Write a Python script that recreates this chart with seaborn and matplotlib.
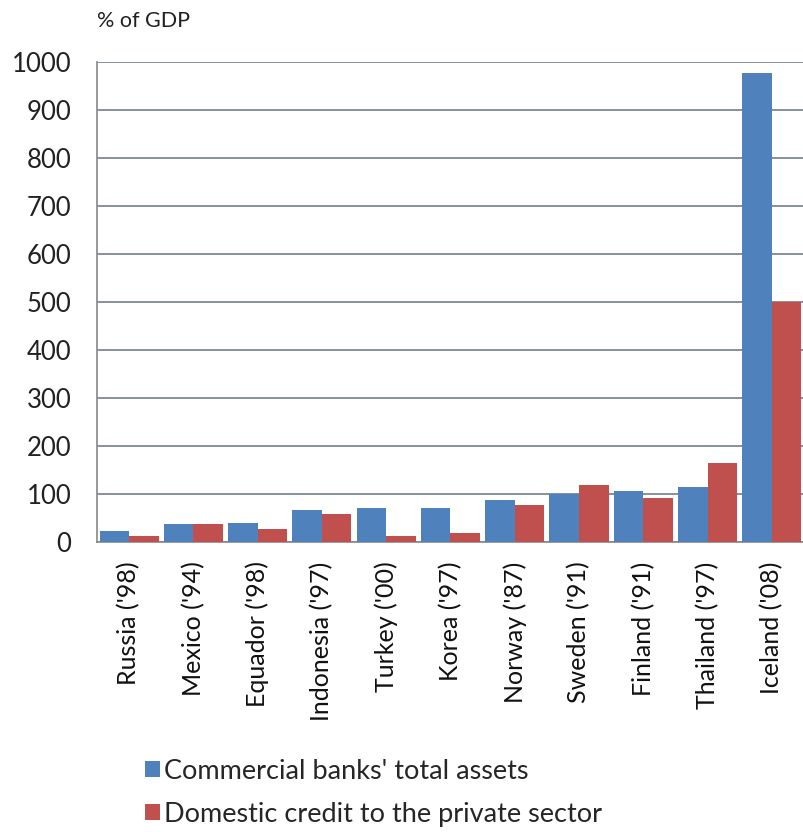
import matplotlib
matplotlib.use("Agg")
import matplotlib.pyplot as plt
from matplotlib.patches import Patch
import seaborn as sns
import pandas as pd

countries = ["Russia ('98)", "Mexico ('94)", "Equador ('98)", "Indonesia ('97)",
             "Turkey ('00)", "Korea ('97)", "Norway ('87)", "Sweden ('91)",
             "Finland ('91)", "Thailand ('97)", "Iceland ('08)"]
bank_assets = [22, 37, 40, 67, 70, 70, 88, 100, 106, 115, 977]
private_credit = [12, 37, 28, 58, 12, 19, 76, 119, 91, 164, 499]
series_names = ["Commercial banks' total assets", "Domestic credit to the private sector"]
yticks = list(range(0, 1001, 100))

df = pd.DataFrame({
    "country": countries * 2,
    "value": bank_assets + private_credit,
    "series": [series_names[0]] * len(countries) + [series_names[1]] * len(countries),
})

sns.set_style("white")
plt.rcParams["font.family"] = ["Lato", "DejaVu Sans"]

fig = plt.figure(figsize=(8.04, 8.32), dpi=100)
ax = fig.add_axes([0.1206, 0.3486, 0.8794, 0.5769])

palette = ["#4F81BD", "#C0504D"]
sns.barplot(data=df, x="country", y="value", hue="series", palette=palette,
            width=0.92, saturation=1, ax=ax, legend=False, zorder=3,
            linewidth=0, edgecolor="none")

ax.set_ylim(0, 1000)
ax.set_xlim(-0.5, len(countries) - 0.5)
ax.set_yticks(yticks)
ax.set_yticklabels([str(t) for t in yticks], fontsize=18.5, color="#222222")
ax.yaxis.grid(True, color="#7C8894", linewidth=1.3, zorder=0)
ax.set_axisbelow(True)
ax.tick_params(axis="y", length=6.5, width=1, color="#888888", pad=12)

# category boundaries carry the ticks, labels sit at the centres
ax.set_xticks([i - 0.5 for i in range(len(countries) + 1)])
ax.set_xticklabels([])
ax.set_xticks(range(len(countries)), minor=True)
ax.set_xticklabels(countries, minor=True, rotation=90, fontsize=18, color="#111111")
ax.tick_params(axis="x", which="major", length=7, width=1, color="#888888", direction="out")
ax.tick_params(axis="x", which="minor", length=0, pad=14)

ax.set_xlabel("")
ax.set_ylabel("")
for side in ["top", "right"]:
    ax.spines[side].set_visible(False)
ax.spines["left"].set_color("#888888")
ax.spines["bottom"].set_color("#888888")
ax.spines["left"].set_linewidth(1.2)
ax.spines["bottom"].set_linewidth(1.2)

fig.text(0.121, 0.975, "% of GDP", fontsize=15.5, va="center", ha="left", color="#222222")

handles = [Patch(facecolor=c, edgecolor="none") for c in palette]
fig.legend(handles, series_names, loc="upper left", bbox_to_anchor=(0.18, 0.088),
           bbox_transform=fig.transFigure, frameon=False, fontsize=19.5,
           handlelength=0.55, handleheight=0.55, handletextpad=0.15, labelspacing=0.66,
           borderaxespad=0, borderpad=0)

fig.savefig("out.png", dpi=100, facecolor="white")
